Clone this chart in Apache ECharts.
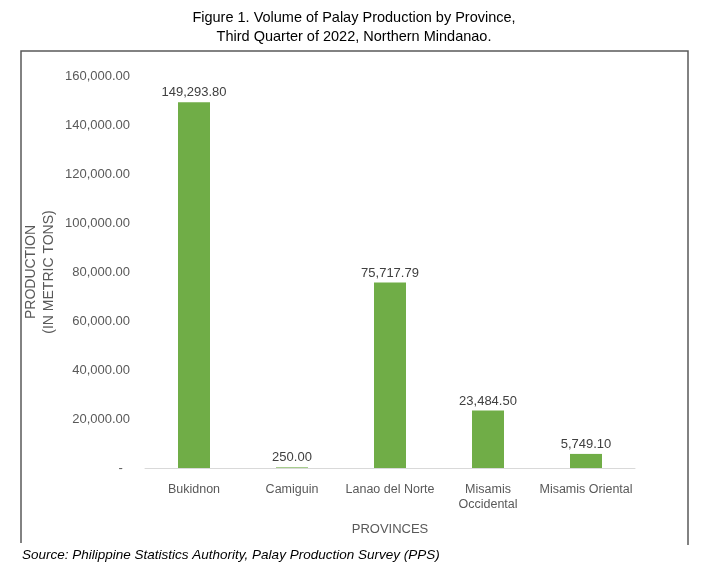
<!DOCTYPE html>
<html>
<head>
<meta charset="utf-8">
<script src="https://cdn.jsdelivr.net/npm/echarts@6/dist/echarts.min.js"></script>
<style>
html,body{margin:0;padding:0;background:#fff;}
#chart{width:709px;height:577px;}
</style>
</head>
<body>
<div id="chart"></div>
<script>
const categories = ['Bukidnon', 'Camiguin', 'Lanao del Norte', 'Misamis\nOccidental', 'Misamis Oriental'];
const production = [149293.80, 250.00, 75717.79, 23484.50, 5749.10];
const yTicks = { min: 0, max: 160000, interval: 20000 };

const fmt = v => v.toLocaleString('en-US', { minimumFractionDigits: 2, maximumFractionDigits: 2 });
const FONT = '"Liberation Sans", Arial, sans-serif';

const chart = echarts.init(document.getElementById('chart'));
chart.setOption({
  backgroundColor: '#fff',
  animation: false,
  title: [
    {
      text: 'Source: Philippine Statistics Authority, Palay Production Survey (PPS)',
      left: 17, top: 543,
      textStyle: { fontFamily: FONT, fontSize: 13.5, fontWeight: 'normal', fontStyle: 'italic', color: '#000' }
    }
  ],
  graphic: [
    { type: 'text', x: 354, y: 8,
      style: { text: 'Figure 1. Volume of Palay Production by Province,\nThird Quarter of 2022, Northern Mindanao.',
        align: 'center', verticalAlign: 'top', font: 'normal 14.5px ' + FONT, lineHeight: 19, fill: '#000' }, silent: true },
    { type: 'polyline', shape: { points: [[21, 543], [21, 51], [688, 51], [688, 545]] },
      style: { stroke: '#595959', lineWidth: 1.5, fill: null }, silent: true }
  ],
  grid: { left: 145, right: 74, top: 76, bottom: 109, containLabel: false, outerBoundsMode: 'none' },
  xAxis: {
    type: 'category',
    data: categories,
    axisLine: { show: true, lineStyle: { color: '#d9d9d9', width: 1 } },
    axisTick: { show: false },
    axisLabel: { fontFamily: FONT, fontSize: 12.5, color: '#595959', margin: 14, lineHeight: 15, interval: 0 },
    name: 'PROVINCES',
    nameLocation: 'middle',
    nameGap: 55,
    nameMoveOverlap: false,
    nameTextStyle: { fontFamily: FONT, fontSize: 13, color: '#595959' }
  },
  yAxis: {
    type: 'value',
    min: yTicks.min, max: yTicks.max, interval: yTicks.interval,
    axisLine: { show: false },
    axisTick: { show: false },
    splitLine: { show: false },
    axisLabel: {
      fontFamily: FONT, fontSize: 13, color: '#595959', margin: 15,
      formatter: v => v === 0 ? '-  ' : fmt(v)
    },
    name: 'PRODUCTION\n(IN METRIC TONS)',
    nameLocation: 'middle',
    nameGap: 87,
    nameMoveOverlap: false,
    nameRotate: 90,
    nameTextStyle: { fontFamily: FONT, fontSize: 14, color: '#595959', lineHeight: 18, align: 'center' }
  },
  series: [{
    type: 'bar',
    data: production,
    barWidth: 32,
    itemStyle: { color: '#70ad47' },
    label: {
      show: true, position: 'top', distance: 3,
      fontFamily: FONT, fontSize: 13, color: '#404040',
      formatter: p => fmt(p.value)
    }
  }]
});
</script>
</body>
</html>
